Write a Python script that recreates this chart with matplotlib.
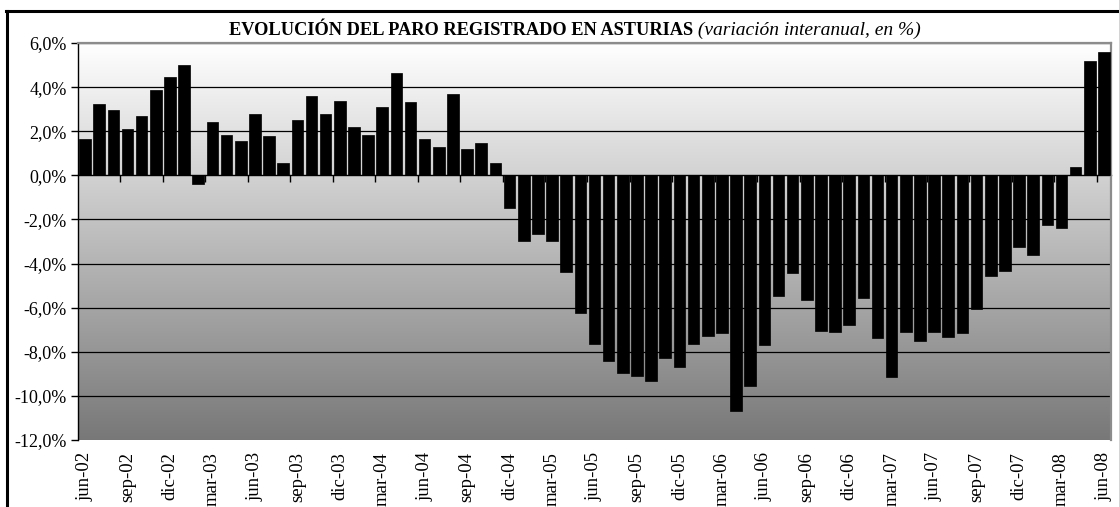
import numpy as np
import matplotlib
matplotlib.use("Agg")
import matplotlib.pyplot as plt
from matplotlib.lines import Line2D
from matplotlib.ticker import FuncFormatter

plt.rcParams['font.family'] = ['Liberation Serif', 'DejaVu Serif']

# ---- data ----
values = [
    1.67, 3.23, 2.98, 2.11, 2.68, 3.85, 4.45, 4.98, -0.38, 2.44,
    1.85, 1.56, 2.76, 1.77, 0.56, 2.52, 3.58, 2.76, 3.36, 2.18,
    1.85, 3.11, 4.65, 3.33, 1.65, 1.29, 3.70, 1.21, 1.48, 0.58,
    -1.50, -2.98, -2.67, -2.98, -4.39, -6.23, -7.64, -8.42, -8.95, -9.08,
    -9.32, -8.26, -8.70, -7.67, -7.29, -7.17, -10.68, -9.55, -7.70, -5.49,
    -4.42, -5.64, -7.06, -7.11, -6.80, -5.58, -7.38, -9.15, -7.11, -7.52,
    -7.09, -7.33, -7.17, -6.08, -4.55, -4.32, -3.23, -3.59, -2.27, -2.38,
    0.38, 5.17, 5.61,
]
tick_labels = ['jun-02', 'sep-02', 'dic-02', 'mar-03', 'jun-03', 'sep-03', 'dic-03',
               'mar-04', 'jun-04', 'sep-04', 'dic-04', 'mar-05', 'jun-05', 'sep-05',
               'dic-05', 'mar-06', 'jun-06', 'sep-06', 'dic-06', 'mar-07', 'jun-07',
               'sep-07', 'dic-07', 'mar-08', 'jun-08']
title_bold = 'EVOLUCIÓN DEL PARO REGISTRADO EN ASTURIAS'
title_italic = ' (variación interanual, en %)'

W, H = 1119, 507
fig = plt.figure(figsize=(W / 100, H / 100), dpi=100)
fig.patch.set_facecolor('white')

left, right, top, bottom = 78, 1111, 43, 440
ax = fig.add_axes([left / W, 1 - bottom / H, (right - left) / W, (bottom - top) / H])

n = len(values)
x = np.arange(n)
ymin, ymax = -12, 6
ax.set_xlim(-0.5, n - 0.5)
ax.set_ylim(ymin, ymax)

# gradient background
grad = np.linspace(1.0, 0.0, 256).reshape(-1, 1)
g0, g1 = 1.0, 0.47
img = g1 + (g0 - g1) * grad
ax.imshow(np.dstack([img, img, img]), extent=(-0.5, n - 0.5, ymin, ymax),
          aspect='auto', zorder=0, interpolation='bilinear')

# gridlines
for yv in np.arange(-10, 7, 2):
    if yv != 0:
        ax.axhline(yv, color='black', lw=0.9, zorder=1)

ax.bar(x, values, width=0.82, color='black', edgecolor='black', lw=0.5, zorder=3)

# axes styling
for s in ['top', 'right']:
    ax.spines[s].set_color('#8c8c8c')
    ax.spines[s].set_linewidth(1.6)
ax.spines['left'].set_color('black')
ax.spines['left'].set_linewidth(1.0)
ax.spines['bottom'].set_position(('data', 0))
ax.spines['bottom'].set_color('black')
ax.spines['bottom'].set_linewidth(1.0)
ax.spines['bottom'].set_zorder(2)

ax.set_yticks(np.arange(ymin, ymax + 1, 2))
ax.yaxis.set_major_formatter(FuncFormatter(lambda v, p: f"{v:.1f}%".replace('.', ',')))
ax.tick_params(axis='y', direction='out', length=5, width=1, labelsize=13, pad=3, colors='black')

ax.set_xticks(np.arange(2.5, n - 1, 3))
ax.set_xticklabels([])
ax.tick_params(axis='x', direction='out', length=5, width=1, colors='black')

# category labels at bottom
for i, lab in enumerate(tick_labels):
    ax.text(i * 3, -0.03, lab, rotation=90, ha='center', va='top', fontsize=13.5,
            transform=ax.get_xaxis_transform(), clip_on=False)

# title
t1 = fig.text(229 / W, 1 - 35 / H, title_bold, fontsize=13.2, fontweight='bold',
              ha='left', va='baseline')
ax.annotate(title_italic, xy=(1, 0), xycoords=t1, fontsize=14, fontstyle='italic',
            ha='left', va='bottom', annotation_clip=False)

# outer frame (left and top visible)
fig.add_artist(Line2D([6.5 / W, 6.5 / W], [0, 1 - 10.5 / H], transform=fig.transFigure,
                      color='black', lw=2.2))
fig.add_artist(Line2D([5.5 / W, 1], [1 - 10.5 / H, 1 - 10.5 / H], transform=fig.transFigure,
                      color='black', lw=2.2))

fig.savefig('out.png', dpi=100)
